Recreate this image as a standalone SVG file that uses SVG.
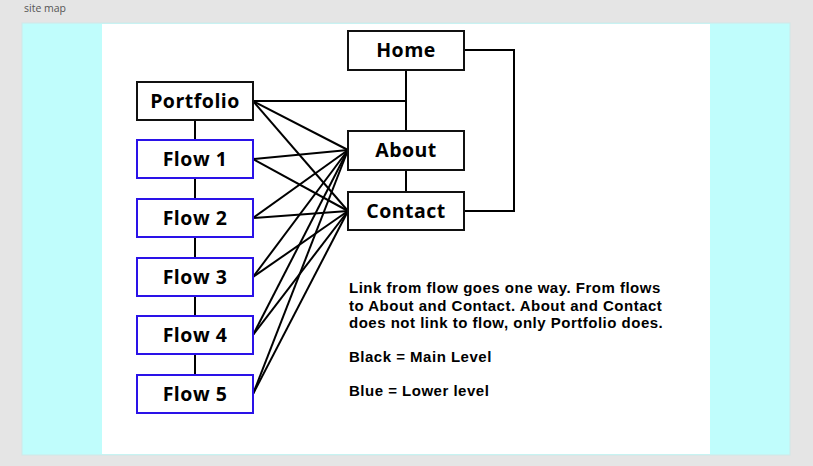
<svg xmlns="http://www.w3.org/2000/svg" width="813" height="466" viewBox="0 0 813 466">
<style>
.box{fill:#fff;stroke:#111;stroke-width:2}
.blue{fill:#fff;stroke:#2a12e8;stroke-width:2}
.lbl{font-family:"Open Sans","Liberation Sans",sans-serif;font-weight:700;font-size:19.5px;letter-spacing:0.5px;fill:#000;text-anchor:middle}
.note{font-family:"Liberation Sans",Arial,sans-serif;font-weight:700;font-size:15px;letter-spacing:0.5px;fill:#000}
.c{stroke:#000;stroke-width:2;fill:none}
</style>
<rect x="0" y="0" width="813" height="466" fill="#e5e5e5"/>
<text x="24" y="12" font-family="'Open Sans','Liberation Sans',sans-serif" font-size="10.5" fill="#555">site map</text>
<rect x="22" y="23" width="768" height="432" fill="#c0fdfc" stroke="#cfe8e8" stroke-width="1"/>
<rect x="102" y="24" width="608" height="430" fill="#fff"/>
<g id="connectors" class="c">
<polyline points="464,50 514,50 514,211 464,211"/>
<line x1="406" y1="70" x2="406" y2="131"/>
<line x1="253" y1="101" x2="406" y2="101"/>
<line x1="406" y1="170" x2="406" y2="192"/>
<line x1="195" y1="120" x2="195" y2="140"/>
<line x1="195" y1="178" x2="195" y2="199"/>
<line x1="195" y1="237" x2="195" y2="258"/>
<line x1="195" y1="296" x2="195" y2="316"/>
<line x1="195" y1="354" x2="195" y2="375"/>
<line x1="253" y1="101" x2="348" y2="150"/>
<line x1="253" y1="101" x2="348" y2="211"/>
<line x1="253" y1="159" x2="348" y2="150"/>
<line x1="253" y1="159" x2="348" y2="211"/>
<line x1="253" y1="218" x2="348" y2="150"/>
<line x1="253" y1="218" x2="348" y2="211"/>
<line x1="253" y1="277" x2="348" y2="150"/>
<line x1="253" y1="277" x2="348" y2="211"/>
<line x1="253" y1="335" x2="348" y2="150"/>
<line x1="253" y1="335" x2="348" y2="211"/>
<line x1="253" y1="394" x2="348" y2="150"/>
<line x1="253" y1="394" x2="348" y2="211"/>
</g>
<g id="home"><rect class="box" x="348" y="31" width="116" height="39"/><text class="lbl" x="406" y="57">Home</text></g>
<g id="portfolio"><rect class="box" x="137" y="82" width="116" height="38"/><text class="lbl" x="195" y="107.5">Portfolio</text></g>
<g id="about"><rect class="box" x="348" y="131" width="116" height="39"/><text class="lbl" x="406" y="157">About</text></g>
<g id="contact"><rect class="box" x="348" y="192" width="116" height="38"/><text class="lbl" x="406" y="218">Contact</text></g>
<g id="flow1"><rect class="blue" x="137" y="140" width="116" height="38"/><text class="lbl" x="195" y="166">Flow 1</text></g>
<g id="flow2"><rect class="blue" x="137" y="199" width="116" height="38"/><text class="lbl" x="195" y="225">Flow 2</text></g>
<g id="flow3"><rect class="blue" x="137" y="258" width="116" height="38"/><text class="lbl" x="195" y="284">Flow 3</text></g>
<g id="flow4"><rect class="blue" x="137" y="316" width="116" height="38"/><text class="lbl" x="195" y="342">Flow 4</text></g>
<g id="flow5"><rect class="blue" x="137" y="375" width="116" height="38"/><text class="lbl" x="195" y="401">Flow 5</text></g>
<g id="note">
<text class="note" x="349" y="293">Link from flow goes one way. From flows</text>
<text class="note" x="349" y="310.5">to About and Contact. About and Contact</text>
<text class="note" x="349" y="328">does not link to flow, only Portfolio does.</text>
<text class="note" x="349" y="361.5">Black = Main Level</text>
<text class="note" x="349" y="395.5">Blue = Lower level</text>
</g>
</svg>
